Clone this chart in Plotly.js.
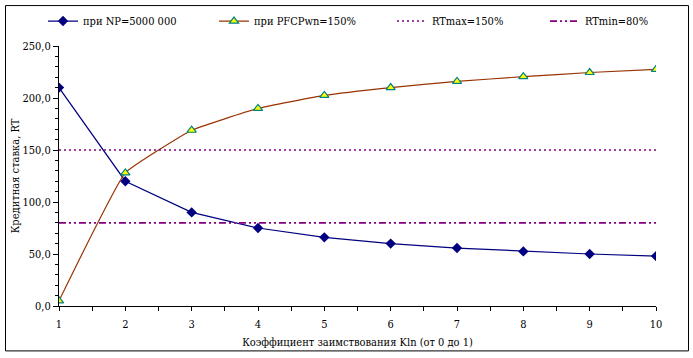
<!DOCTYPE html>
<html>
<head>
<meta charset="utf-8">
<script src="https://cdn.plot.ly/plotly-3.0.1.min.js"></script>
<style>
html,body{margin:0;padding:0;background:#fff;}
#chart{width:693px;height:358px;}
</style>
</head>
<body>
<div id="chart"></div>
<script>
// Data
const kValues = [1, 2, 3, 4, 5, 6, 7, 8, 9, 10];
const rtNP = [210, 120, 90, 75, 66, 60, 55.7, 52.5, 50, 48];
const rtPFCP = [5, 128, 169, 190, 202.5, 210, 216, 220.5, 224.5, 227.5];
const rtMax = [150, 150, 150, 150, 150, 150, 150, 150, 150, 150];
const rtMin = [80, 80, 80, 80, 80, 80, 80, 80, 80, 80];
const seriesNames = ['при NP=5000 000', 'при PFCPwn=150%', 'RTmax=150%', 'RTmin=80%'];
const xTitle = 'Коэффициент заимствования Kln (от 0 до 1)';
const yTitle = 'Кредитная ставка, RT';

const font = {family: 'DejaVu Serif Condensed, DejaVu Serif', size: 11, color: '#000'};

const traces = [
  {x: kValues, y: rtNP, name: seriesNames[0], type: 'scatter', mode: 'lines+markers',
   line: {color: '#000080', width: 1.2},
   marker: {symbol: 'diamond', size: 8, color: '#000080'}, legend: 'legend'},
  {x: kValues, y: rtPFCP, name: seriesNames[1], type: 'scatter', mode: 'lines+markers',
   line: {color: '#993300', width: 1.2, shape: 'spline', smoothing: 0.3},
   marker: {symbol: 'triangle-up', size: 8, color: '#FFFF00', line: {color: '#008080', width: 1.2}}, legend: 'legend2'},
  {x: kValues, y: rtMax, name: seriesNames[2], type: 'scatter', mode: 'lines',
   line: {color: '#800080', width: 1.5, dash: '2px,3px'}, legend: 'legend3'},
  {x: kValues, y: rtMin, name: seriesNames[3], type: 'scatter', mode: 'lines',
   line: {color: '#800080', width: 1.8, dash: '7px,3px,2px,3px,2px,3px'}, legend: 'legend4'}
];

// plot area px: left 59, right 656, top 46, bottom 306.5
const L = 59, R = 656, T = 46, B = 306.5;
const px2x = p => (p - L) / (R - L);
const px2y = p => (B - p) / (B - T);

function leg(textStartPx) {
  return {x: px2x(textStartPx - 43), xanchor: 'left', y: px2y(21), yanchor: 'middle',
    orientation: 'h', font: font, bgcolor: 'rgba(0,0,0,0)', borderwidth: 0};
}

const layout = {
  width: 693, height: 358,
  margin: {l: L, r: 693 - R, t: T, b: 358 - B, autoexpand: false},
  paper_bgcolor: '#fff', plot_bgcolor: '#fff',
  separators: ', ',
  font: font,
  showlegend: true,
  legend: leg(86),
  legend2: leg(257),
  legend3: leg(435),
  legend4: leg(588),
  xaxis: {
    range: [1, 10], dtick: 1, tick0: 1, showgrid: false, zeroline: false,
    showline: true, linecolor: '#000', linewidth: 1,
    ticks: 'outside', ticklen: 4, tickcolor: '#000', tickwidth: 1,
    ticklabelstandoff: 4,
    minor: {dtick: 0.5, tick0: 1, ticks: 'outside', ticklen: 4, tickcolor: '#000', showgrid: false},
    tickfont: font,
    title: {text: xTitle, font: font, standoff: 8}
  },
  yaxis: {
    range: [0, 250], dtick: 50, tickformat: '.1f', showgrid: false, zeroline: false,
    showline: true, linecolor: '#000', linewidth: 1,
    ticks: 'outside', ticklen: 5, tickcolor: '#000', tickwidth: 1,
    minor: {dtick: 10, ticks: 'outside', ticklen: 3, tickcolor: '#000', showgrid: false},
    tickfont: font,
    title: {text: yTitle, font: font, standoff: 0}
  },
  shapes: [{
    type: 'rect', xref: 'paper', yref: 'paper', layer: 'above',
    x0: px2x(5.5), x1: px2x(688.5), y0: px2y(351.5), y1: px2y(5.5),
    line: {color: '#000', width: 1}, fillcolor: 'rgba(0,0,0,0)'
  }]
};

Plotly.newPlot('chart', traces, layout, {displayModeBar: false, staticPlot: true});
</script>
</body>
</html>
